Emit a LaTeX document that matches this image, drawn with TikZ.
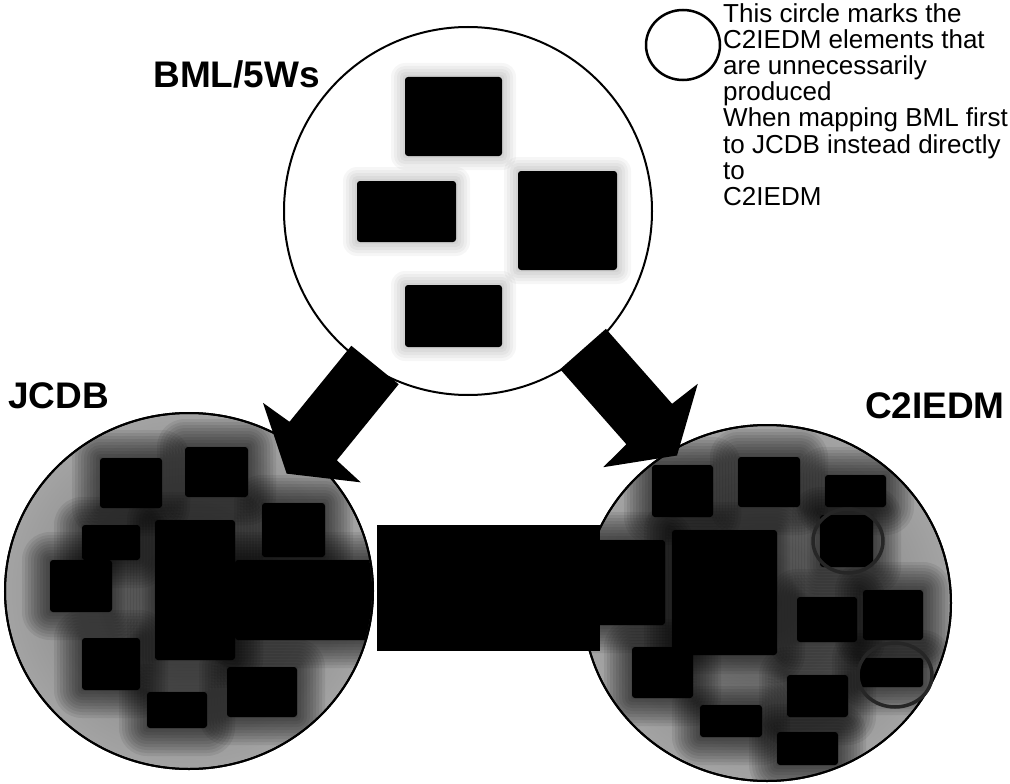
\documentclass[tikz,border=0pt]{standalone}
\usepackage{fontspec}
\setmainfont{Liberation Sans}
\usetikzlibrary{shapes.geometric}
\newcommand{\dkbox}[4]{%
  \foreach \e in {28,25,...,1}{%
    \fill[black,opacity=0.075,rounded corners=\e pt] (#1-\e,#2-\e) rectangle (#3+\e,#4+\e);}%
  \fill[black,rounded corners=3pt] (#1,#2) rectangle (#3,#4);}
\newcommand{\ltbox}[4]{%
  \foreach \e in {14,11,...,2}{%
    \fill[black,opacity=0.035,rounded corners=\e pt] (#1-\e,#2-\e) rectangle (#3+\e,#4+\e);}%
  \fill[black,rounded corners=3pt] (#1,#2) rectangle (#3,#4);}
\tikzset{
  rim/.style={draw=black,line width=2pt,inner sep=0pt},
  disc/.style={ellipse,rim,minimum width=368pt,minimum height=356pt,inner color=black!55,outer color=black!36},
  marker/.style={draw=black!85,line width=3.5pt},
  blockarrow/.style={fill=black},
  lbl/.style={inner sep=0pt,font=\fontsize{37}{37}\selectfont\bfseries},
}
\begin{document}
\begin{tikzpicture}[x=1pt,y=-1pt]
\path[use as bounding box] (0,0) rectangle (1010,784);
\fill[white] (0,0) rectangle (1010,784);

% ---------- top circle BML/5Ws
\node[circle,rim,fill=white,minimum size=368pt] (bml) at (468,211) {};
\begin{scope}
  \clip (bml.center) circle [radius=182pt];
  \ltbox{405}{77}{502}{156}
  \ltbox{357}{181}{456}{242}
  \ltbox{518}{171}{617}{270}
  \ltbox{405}{285}{502}{347}
\end{scope}

% ---------- left circle JCDB
\node[disc] (jcdb) at (189,591) {};
\begin{scope}
  \clip (jcdb.center) ellipse [x radius=183pt, y radius=177pt];
  \dkbox{100}{458}{162}{508}
  \dkbox{185}{447}{248}{497}
  \dkbox{262}{503}{325}{557}
  \dkbox{82}{525}{140}{560}
  \dkbox{50}{560}{112}{612}
  \dkbox{155}{520}{235}{660}
  \dkbox{235}{560}{377}{640}
  \dkbox{82}{638}{140}{690}
  \dkbox{147}{692}{207}{728}
  \dkbox{227}{667}{297}{717}
\end{scope}
\draw[line width=2pt] (jcdb.center) ellipse [x radius=184pt, y radius=178pt];

% ---------- right circle C2IEDM
\node[disc] (c2) at (767,603) {};
\begin{scope}
  \clip (c2.center) ellipse [x radius=183pt, y radius=177pt];
  \dkbox{652}{465}{713}{517}
  \dkbox{738}{457}{800}{507}
  \dkbox{825}{475}{886}{507}
  \dkbox{820}{515}{873}{567}
  \dkbox{590}{540}{665}{625}
  \dkbox{672}{530}{777}{655}
  \dkbox{797}{597}{857}{642}
  \dkbox{863}{590}{923}{640}
  \dkbox{860}{658}{923}{687}
  \dkbox{787}{675}{848}{717}
  \dkbox{632}{647}{693}{698}
  \dkbox{700}{705}{762}{737}
  \dkbox{777}{732}{838}{765}
\end{scope}
\draw[line width=2pt] (c2.center) ellipse [x radius=184pt, y radius=178pt];
\node[ellipse,marker,minimum width=70pt,minimum height=64pt] (m1) at (848,541) {};
\node[ellipse,marker,minimum width=74pt,minimum height=64pt] (m2) at (895,675) {};

% ---------- connecting bar JCDB -- C2IEDM
\fill[black] (377,525) rectangle (600,651);

% ---------- block arrows
\coordinate (la) at (375,365);
\coordinate (ra) at (583,349);
\begin{scope}[shift={(la)},x={(-0.631pt,-0.776pt)},y={(0.776pt,-0.631pt)}]
  \fill[blockarrow] (0,-30.5) -- (98,-30.5) -- (100,-63) -- (140,0) -- (100,63) -- (98,30.5) -- (0,30.5) -- cycle;
\end{scope}
\begin{scope}[shift={(ra)},x={(0.662pt,-0.750pt)},y={(-0.750pt,-0.662pt)}]
  \fill[blockarrow] (0,-30.5) -- (100,-30.5) -- (102,-63) -- (142,0) -- (102,63) -- (100,30.5) -- (0,30.5) -- cycle;
\end{scope}

% ---------- labels
\node[lbl,anchor=base east] (lbml) at (320,88) {BML/5Ws};
\node[lbl,anchor=base west] (ljcdb) at (8,408) {JCDB};
\node[lbl,anchor=base east] (lc2) at (1005,418) {C2IEDM};

% ---------- legend
\node[ellipse,draw,line width=2.5pt,minimum width=74pt,minimum height=70pt,inner sep=0pt] (leg) at (683,45) {};
\node[anchor=north west,inner sep=0pt,align=left,font=\fontsize{26}{26.2}\selectfont] (legtxt) at (723,3)
  {This circle marks the\\C2IEDM elements that\\are unnecessarily\\produced\\When mapping BML first\\to JCDB instead directly\\to\\C2IEDM};
\end{tikzpicture}
\end{document}
